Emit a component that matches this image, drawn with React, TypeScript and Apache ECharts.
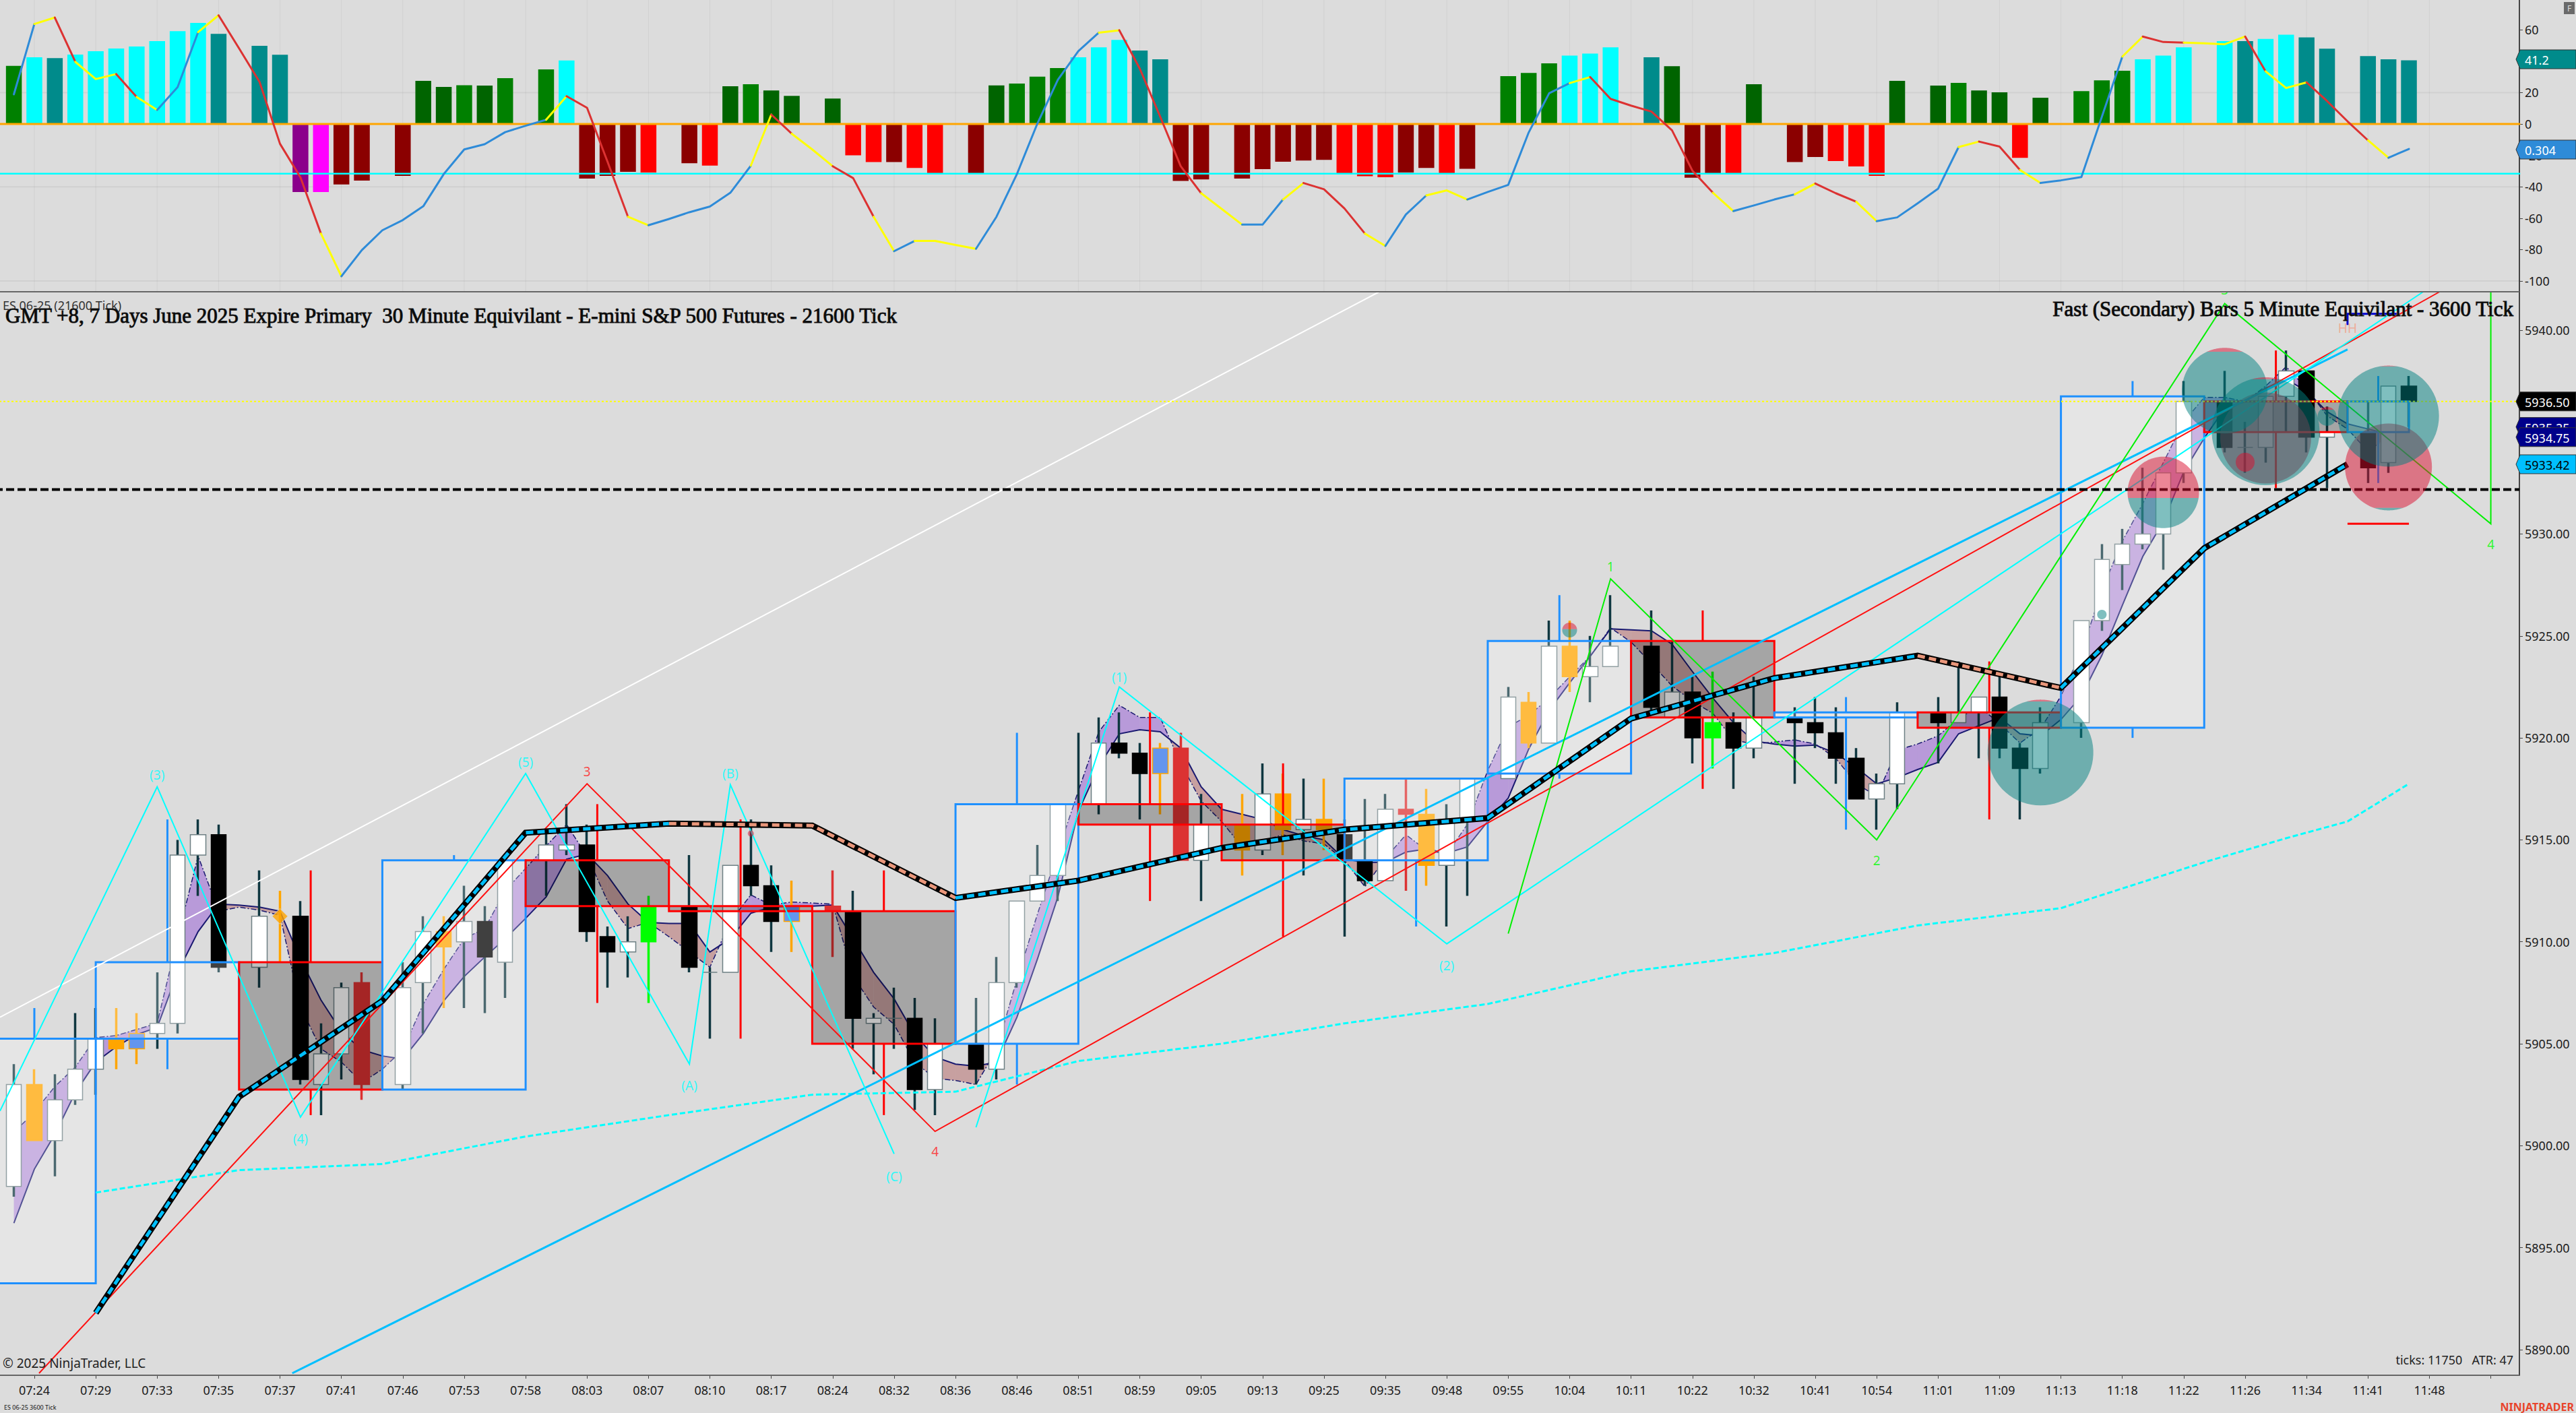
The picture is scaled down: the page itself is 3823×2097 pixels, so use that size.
import React, { useEffect, useRef } from "react";
import * as echarts from "echarts";

const tickLabels = ["07:24","07:29","07:33","07:35","07:37","07:41","07:46","07:53","07:58","08:03","08:07","08:10","08:17","08:24","08:32","08:36","08:46","08:51","08:59","09:05","09:13","09:25","09:35","09:48","09:55","10:04","10:11","10:22","10:32","10:41","10:54","11:01","11:09","11:13","11:18","11:22","11:26","11:34","11:41","11:48"];
const priceTicks = [5890,5895,5900,5905,5910,5915,5920,5925,5930,5935,5940];
const oscTicks = [60,40,20,0,-20,-40,-60,-80,-100];

// histogram, one value per fast bar
const histValues: (number|null)[] = [37.05,42.5,41.9,44.2,46.4,48.1,49.4,52.8,59.1,64.4,57.4,null,49.8,44.1,-43.3,-43.3,-38.5,-36,null,-33,27.5,23.6,24.7,24.5,29.2,null,34.8,40.5,-34.8,-33,-30.5,-30.9,null,-25,-26.5,24,25.3,21.3,17.9,null,16.2,-20,-24.3,-24.3,-28,-31.5,null,-31.5,24.6,25.8,30.2,35.6,42.5,48.8,53.5,46.8,41.2,-36.3,-35.3,null,-34.8,-28.8,-24,-23.3,-22.9,-31.5,-33.3,-33.9,-30.9,-28,-31.5,-28.5,null,30.5,32.5,38.6,43.6,44.9,48.8,null,42.5,36.8,-34.2,-31.5,-31.5,25.3,null,-24.3,-21,-23.6,-27,-33,27.5,null,24.5,26.2,21.3,20.2,-21.6,16.7,null,20.9,27.8,33.9,41.2,43.6,48.8,null,52.8,52.8,54.2,56.9,55.2,48,null,43.2,41.2,40.6];
const histKinds = "gctccccccct.ttpmxx.xddgdg.gcxxxr.xrdgdd.drrxrr.xdgggcccttxx.xxxxxrrrxxrx.gggccc.tdxxrd.xxrrrd.dgddrd.gggccc.ctcctt.ttt".split("");

const oscValues = [18.9,63.7,67.8,39.6,28.6,31.8,17.2,8.9,23.5,58.5,69.2,48.2,26.8,-12.6,-34,-69.8,-97,-80.3,-67.7,-61.2,-52.4,-31.9,-16.2,-12.9,-5.2,-1.1,2.7,17.7,10.3,-24,-59.1,-64.5,-60.5,-56.2,-52.6,-43.8,-26.6,6,-6.2,-16.2,-26.9,-34.5,-59.1,-81,-74.5,-74.5,-77,-79.5,-59.1,-31.9,0.3,28.2,46.4,58.2,59.7,35.3,4.6,-26.9,-44.1,-54.1,-64.1,-64.1,-48.1,-37.6,-41.6,-53.8,-69.8,-77.7,-57.7,-45.5,-42.3,-48.1,-43.3,-38.8,-5.4,19.6,26,29.9,16,11.7,7.9,-4,-29.8,-43.8,-55.5,-51.9,-48.1,-44.8,-37.9,-44.1,-49.5,-61.9,-59.5,-50.5,-41.2,-14.7,-11.2,-14.4,-29.3,-37.6,-35.9,-33.8,4.6,42.9,55.7,52.2,51.8,51.4,50.8,55.7,33.5,22.9,26.5,14.6,1.7,-10.4,-21.5,-15.9];
const oscSegments = "BYRYYRYBBYRRRRRYBBBBBBBBBBYRRRYBBBBBYRYYRRYBYYYBBBBBBYRRRRYYBBYRRRYBBYYBBBBBYRRRRRRYBBBYRRYBBBBYRRYBBBBYRRYYYRYYRRRYB";

type Row = [number, number, number, number, string] | null;
// high, body top, body bottom, low, kind
const candleRows: Row[] = [
[5904,5903,5898,5897.5,"W"],[5903.75,5903,5900.25,5900.25,"O"],[5903.5,5902.25,5900.25,5898.5,"W"],[5906.5,5903.75,5902.25,5902,"W"],[5906.75,5905.25,5903.75,5902.5,"W"],[5906.75,5905.25,5904.75,5903.75,"O"],[5906.5,5905.5,5904.75,5904,"L"],[5908.5,5906,5905.5,5904.75,"W"],[5915,5914.25,5906,5905.5,"W"],[5916,5915.25,5914.25,5912.25,"W"],[5915.75,5915.25,5908.75,5908.5,"B"],null,
[5913.5,5911.25,5908.75,5907.75,"W"],[5912.5,5911.25,5911.25,5909,"Y"],[5912,5911.25,5903.25,5903,"B"],[5906,5904.5,5903,5901.5,"W"],[5908,5907.75,5904.5,5903.25,"W"],[5908.5,5908,5903,5902.25,"R"],null,
[5909,5907.75,5903,5902.75,"W"],[5911.25,5910.5,5908,5905.5,"W"],[5911.25,5910.5,5909.75,5906.75,"O"],[5912.75,5911,5910,5906.75,"W"],[5911.75,5911,5909.25,5906.5,"B"],[5914,5914,5909,5907.25,"W"],null,
[5915.5,5914.75,5914,5912.25,"W"],[5916.75,5914.75,5914.5,5914.25,"W"],[5915.75,5914.75,5910.5,5910,"B"],[5910.75,5910.25,5909.5,5907.75,"B"],[5911.25,5910,5909.5,5908.25,"W"],[5912.25,5911.75,5910,5907,"G"],null,
[5914.25,5911.75,5908.75,5908.5,"B"],[5908.75,5908.5,5908.5,5905.25,"W"],[5913.75,5913.75,5908.5,5908.5,"W"],[5916,5913.75,5912.75,5912.25,"B"],[5913.75,5912.75,5911,5909.5,"B"],[5913,5911.75,5911,5909.5,"L"],null,
[5913.5,5911.75,5911.5,5909.25,"R"],[5912.5,5911.5,5906.25,5904.75,"B"],[5906.5,5906.25,5906,5903.5,"W"],[5907.75,5906.25,5906.25,5904.75,"W"],[5907.25,5906.25,5902.75,5901.75,"B"],[5906.25,5905,5902.75,5901.5,"W"],null,
[5907.25,5905,5903.75,5903,"B"],[5909.25,5908,5903.75,5903.25,"W"],[5912,5912,5908,5907.75,"W"],[5914.75,5913.25,5912,5912,"W"],[5916.75,5916.75,5913.25,5912,"W"],[5920.25,5916.75,5916.75,5915.75,"W"],[5921,5919.75,5916.75,5916.25,"W"],[5921.25,5919.75,5919.25,5919,"B"],[5919.75,5919.25,5918.25,5916,"B"],[5919.75,5919.5,5918.25,5916.25,"L"],[5920.25,5919.5,5914,5914,"R"],[5917.25,5915.75,5914,5912,"W"],null,
[5917.25,5915.75,5914.5,5913.25,"O"],[5918.75,5917.25,5914.5,5914.25,"W"],[5918.25,5917.25,5915.5,5914.25,"O"],[5918,5916,5915.5,5913.25,"W"],[5918,5916,5915.5,5914.5,"O"],[5916,5915.25,5914,5910.25,"B"],[5917,5914,5913,5912.75,"B"],[5917.25,5916.5,5913,5913,"W"],[5918,5916.5,5916.25,5912.5,"R"],[5917.5,5916.25,5913.75,5912.75,"O"],[5916.75,5916,5913.75,5910.75,"W"],[5918,5918,5916,5912.25,"W"],null,
[5922.5,5922,5918,5918,"W"],[5922.25,5921.75,5919.75,5919.5,"O"],[5925.75,5924.5,5919.75,5919.75,"W"],[5925.75,5924.5,5923,5922.25,"O"],[5925,5923.5,5923,5921.75,"W"],[5927,5924.5,5923.5,5923.5,"W"],null,
[5926.25,5924.5,5921.5,5921.25,"B"],[5924.75,5922.25,5921,5921,"W"],[5923,5922.25,5920,5918.75,"B"],[5923.25,5920.75,5920,5918.5,"G"],[5921.25,5920.75,5919.5,5917.5,"B"],[5923,5921,5919.5,5919,"W"],null,
[5921.5,5921,5920.75,5917.75,"B"],[5922,5920.75,5920.25,5919.5,"B"],[5921.5,5920.25,5919,5917.75,"B"],[5919.5,5919,5917,5917,"B"],[5918.25,5917.75,5917,5915.5,"W"],[5921.75,5921.25,5917.75,5916.5,"W"],null,
[5922,5921.25,5920.75,5918.75,"B"],[5923.75,5921.25,5920.75,5920.75,"W"],[5922,5922,5921.25,5919,"W"],[5923,5922,5919.5,5919,"B"],[5919.75,5919.5,5918.5,5916,"B"],[5921.5,5920.75,5918.5,5918.25,"W"],null,
[5925.75,5925.75,5920.75,5920,"W"],[5929.5,5928.75,5925.75,5925.25,"W"],[5930.25,5929.5,5928.5,5927.25,"W"],[5933.25,5930,5929.5,5929.25,"W"],[5933,5933,5930,5928.25,"W"],[5937.5,5936.5,5933,5932.5,"W"],null,
[5938,5936.5,5934.25,5934,"B"],[5935.5,5934.25,5934.25,5933,"W"],[5936.75,5936.75,5934.25,5933.5,"W"],[5939,5938,5936.75,5935,"W"],[5938,5938,5934.75,5934,"B"],[5936.25,5935,5934.75,5932.25,"W"],null,
[5936.5,5935,5933.25,5932.5,"B"],[5937.25,5937.25,5933.5,5933,"W"],[5937.75,5937.25,5936.5,5935.25,"B"],
];

// left bar, right bar, top, bottom, high, low, direction
const slowBars: [number,number,number,number,number,number,string][] = [
[-2,4,5905.25,5893.25,5906.75,5893.25,"up"],[4,11,5909,5905.25,5916,5903.75,"up"],[11,18,5909,5902.75,5913.5,5901.5,"down"],[18,25,5914,5902.75,5914.25,5902.75,"up"],[25,32,5914,5911.75,5916.75,5907,"down"],[32,39,5911.75,5911.5,5916,5905.25,"down"],[39,46,5911.5,5905,5913.5,5901.5,"down"],[46,52,5916.75,5905,5920.25,5903,"up"],[52,59,5916.75,5915.75,5921.25,5912,"down"],[59,65,5915.75,5914,5918.75,5910.25,"down"],[65,72,5918,5914,5918,5910.75,"up"],[72,79,5924.75,5918.25,5927,5918,"up"],[79,86,5924.75,5921,5926.25,5917.5,"down"],[86,93,5921.25,5921,5922,5915.5,"up"],[93,100,5921.25,5920.5,5923.75,5916,"down"],[100,107,5936.75,5920.5,5937.5,5920,"up"],[107,114,5936.5,5935,5939,5932.25,"down"],[114,117,5936.5,5935,5937.75,5932.5,"up"],
];

const ribbonSolid = [5896.2,5898.85,5900.55,5902.6,5904.1,5904.85,5905.45,5905.8,5908.5,5910.5,5911.85,5911.8,5911.7,5911.5,5909.15,5907.15,5905.6,5904.7,5904.4,5904.25,5905.5,5907.1,5908.3,5909.25,5910.15,5911.15,5912.2,5914.05,5914.3,5913.25,5911.85,5910.95,5910.9,5910.9,5909.5,5910.15,5911.4,5911.7,5911.75,5911.75,5911.8,5910.15,5908.5,5907.2,5905.45,5904.35,5904,5903.9,5904.1,5906.3,5909.15,5912.2,5916.4,5918.6,5920.2,5920.4,5920.3,5919.5,5917.6,5916.5,5916.25,5916,5915.5,5915.2,5915,5914.05,5913.9,5913.9,5914.4,5914.55,5914.35,5914.65,5915.9,5917.05,5919.45,5921.35,5922.7,5924,5925.35,5925.3,5925.25,5924.6,5923.25,5921.95,5920.75,5919.85,5919.7,5919.6,5919.65,5919.25,5918.55,5917.75,5918.05,5918.45,5918.8,5920.2,5920.6,5921,5920.2,5920.1,5920.9,5922.05,5924.05,5926.5,5928.9,5930.6,5933.05,5934.7,5936.15,5936.5,5937.15,5937.6,5937,5936,5935.4,5935.15,5934.9];
const ribbonDashed = [5900.65,5901.65,5902.9,5903.85,5905.3,5905.4,5905.7,5906,5910.2,5914.2,5911.5,5911.7,5911.55,5911.3,5906.8,5904.75,5904.1,5903.1,5903.75,5904.7,5906.95,5908.65,5910.15,5910.65,5912.5,5913.6,5914.7,5915.75,5914.2,5912,5910.65,5910.95,5910.25,5909.5,5908.75,5911,5912.3,5911.8,5911.95,5911.9,5911.85,5908.3,5906.8,5905.95,5904.1,5903.3,5903.2,5903,5904.7,5908.15,5911.35,5914.4,5917.4,5920.3,5921.6,5921,5921,5918.75,5916.9,5915.9,5914.65,5914.95,5915.25,5914.95,5914.8,5914,5912.7,5914.1,5915.25,5914.5,5914.3,5915.75,5918.4,5920.55,5921.1,5921.95,5923,5924,5925.4,5924.7,5923.65,5922.55,5921.8,5921.2,5919.9,5919.7,5919.8,5919.9,5919.7,5919,5917.75,5917.15,5919.4,5919.7,5920.1,5920.95,5921.55,5920.7,5919.75,5920.45,5922.05,5924.2,5927.25,5929.65,5931.5,5933.5,5935.5,5936.7,5936.7,5936.5,5937.25,5938.2,5937.15,5935.8,5935.15,5934.05,5934.8];

const thickBars = [4,11,18,25,32,39,46,52,59,65,72,79,86,93,100,107,114];
const thickPrices = [5891.8,5902.4,5907.1,5915.35,5915.8,5915.7,5912.15,5913,5914.6,5915.5,5916.07,5920.95,5922.93,5924.03,5922.45,5929.3,5933.42];
const thickSegments = "BBBBSSBBBBBBBSBB";

const longMaBars = [4,11,18,25,32,39,46,52,59,65,72,79,86,93,100,107,111,114,117];
const longMaPrices = [5897.7,5898.8,5899.1,5900.45,5901.5,5902.5,5902.65,5904.15,5905,5906,5906.95,5908.55,5909.45,5910.8,5911.65,5913.9,5915.08,5915.9,5917.75];

const whiteLine = [[-0.68,5906.3],[66.7,5941.88]];
const redWave = [[1.23,5888.84],[28,5917.75],[45,5900.7],[118.5,5941.88]];
const blueTrend = [[13.6,5888.84],[114,5939.05]];
const cyanWaveA = [[-0.68,5901.7],[7,5917.6],[14,5901.4],[25,5918.25],[33,5904],[35,5917.7],[43,5899.6]];
const cyanWaveB = [[47,5900.9],[54,5922.5],[70,5909.9],[117.7,5941.88]];
const greenWave = [[73,5910.4],[78,5927.8],[91,5915],[108,5941.3],[121,5930.5],[121,5941.88]];

const waveLabels: [string,number,number,string][] = [
["(3)",7,5918.17,"#00FFFF"],["(4)",14,5900.34,"#00FFFF"],["(5)",25,5918.8,"#00FFFF"],["3",28,5918.35,"#FF2020"],["(A)",33,5902.95,"#00FFFF"],["(B)",35,5918.25,"#00FFFF"],["(C)",43,5898.5,"#00FFFF"],["4",45,5899.7,"#FF2020"],["(1)",54,5922.98,"#00FFFF"],["(2)",70,5908.84,"#00FFFF"],["1",78,5928.4,"#00FF00"],["2",91,5914,"#00FF00"],["3",108,5941.98,"#00FF00"],["4",121,5929.49,"#00FF00"],["HH",114,5940.1,"#F2A088"],
];

// bar, centre price, diameter, price where the pink upper part meets the teal lower part
const circleRows: [number,number,number,number][] = [
[110,5934.71,135,5932.07],[116,5933.29,129,5931.28],[99,5919.28,157,5921.79],[102,5926.05,14,5926.3],[76,5925.29,22,5925.33],[36,5915.31,9,5915.1],[108,5937.03,127,5938.94],[110,5935.04,160,5937.59],[113,5935.77,28,5936.1],[116,5935.78,150,5938.22],[105,5932.04,106,5931.77],[109,5933.52,28,5933],
];

const priceFlags: [number,string,string,string][] = [[5936.5,"5936.50","#000000","#FFFFFF"],[5935.25,"5935.25","#00008B","#FFFFFF"],[5934.75,"5934.75","#00008B","#FFFFFF"],[5933.42,"5933.42","#00BFFF","#000000"]];
const oscFlags: [number,string,string,string][] = [[41.2,"41.2","#008B8B","#FFFFFF"],[-16.3,"0.304","#2E8BD8","#FFFFFF"]];

const BAND = 30.38;
const BANDS = 124;
const FONT = "'Noto Sans', sans-serif";
const AXIS_END = 122.4;
const OFFSET = -3.14;
const OSC_MIN = -106.87, OSC_MAX = 78.97, PRICE_MIN = 5888.74, PRICE_MAX = 5941.88;
const categories = Array.from({ length: BANDS }, (_, j) => (j >= 2 && (j - 2) % 3 === 0 ? tickLabels[(j - 2) / 3] ?? "" : ""));
const isTick = (j: number) => j >= 2 && (j - 2) % 3 === 0;

const histColor: Record<string,string> = { g:"#008000", d:"#006400", c:"#00FFFF", t:"#008B8B", p:"#8B008B", m:"#FF00FF", r:"#FF0000", x:"#8B0000" };
const oscColor: Record<string,string> = { B:"#2E8BD8", Y:"#FFFF00", R:"#DC3232" };
const WICK = "#0F3740";
const candleStyle: Record<string,{fill:string,border:string,wick:string}> = {
  W:{fill:"#FFFFFF",border:"#6E8084",wick:WICK}, B:{fill:"#000000",border:"#000000",wick:WICK}, O:{fill:"#FFA500",border:"#FFA500",wick:"#FFA500"},
  Y:{fill:"transparent",border:"transparent",wick:"#FFA500"}, L:{fill:"#6495ED",border:"#FFA500",wick:"#FFA500"}, R:{fill:"#DC3232",border:"#DC3232",wick:"#DC3232"}, G:{fill:"#00FF00",border:"#00FF00",wick:"#00FF00"},
};
const isUp = (kind: string) => kind === "W" || kind === "G";

const mainLine = (name: string, data: any[], color: string, width: number, z: number, type: any = "solid") => ({
  name, type: "line", xAxisIndex: 3, yAxisIndex: 1, data, symbol: "none", silent: true, z,
  lineStyle: { color, width, type, cap: "butt", join: "miter" },
});
const oscLine = (name: string, data: any[], color: string, width: number, z: number) => ({
  name, type: "line", xAxisIndex: 1, yAxisIndex: 0, data, symbol: "none", silent: true, z,
  lineStyle: { color, width, cap: "round", join: "round" },
});

const runs = (segments: string) => {
  const out: { code: string; from: number; to: number }[] = [];
  segments.split("").forEach((code, i) => {
    const last = out[out.length - 1];
    if (last && last.code === code) last.to = i + 1;
    else out.push({ code, from: i, to: i + 1 });
  });
  return out;
};

const flagSeries = (name: string, rows: [number,string,string,string][], xAxisIndex: number, yAxisIndex: number) => ({
  name, type: "custom", xAxisIndex, yAxisIndex, clip: false, silent: true, z: 30,
  data: rows.map((r) => [AXIS_END, r[0]]), encode: { x: 0, y: 1 },
  renderItem: (params: any, api: any) => {
    const r = rows[params.dataIndex];
    const y = api.coord([AXIS_END, r[0]])[1];
    return { type: "group", children: [
      { type: "polygon", shape: { points: [[3734,y],[3740,y-14],[3823,y-14],[3823,y+14],[3740,y+14]] }, style: { fill: r[2], stroke: "#333333", lineWidth: 1 } },
      { type: "text", style: { x: 3747, y: y + 1, text: r[1], fill: r[3], fontSize: 18, fontFamily: FONT, align: "left", verticalAlign: "middle" } },
    ] };
  },
});

const buildOption = (): any => {
  const series: any[] = [];

  // oscillator panel
  series.push({
    name: "grid columns", type: "custom", xAxisIndex: 1, yAxisIndex: 0, silent: true, z: 10,
    data: tickLabels.map((_, i) => [1 + i * 3, 0]), encode: { x: 0, y: 1 },
    renderItem: (params: any, api: any) => {
      const x = api.coord([api.value(0), 0])[0];
      return { type: "line", shape: { x1: x, y1: params.coordSys.y, x2: x, y2: params.coordSys.y + params.coordSys.height }, style: { stroke: "rgba(0,0,0,0.05)", lineWidth: 1 } };
    },
  });
  [20, -40, -100].forEach((v) => series.push(oscLine("grid " + v, [[-1.5, v], [AXIS_END, v]], "rgba(0,0,0,0.05)", 2, 10)));
  series.push({
    name: "histogram", type: "bar", xAxisIndex: 0, yAxisIndex: 0, barWidth: 23.5, z: 11, silent: true,
    data: ["-"].concat(histValues as any).map((v: any, j: number) => v === "-" || v === null ? "-" : { value: v, itemStyle: { color: histColor[histKinds[j - 1]] } }),
  });
  series.push(oscLine("zero", [[-1.5, 0], [AXIS_END, 0]], "#FFA500", 3, 12));
  series.push(oscLine("oversold", [[-1.5, -31.7], [AXIS_END, -31.7]], "#00FFFF", 2.5, 12));
  runs(oscSegments).forEach((run, i) => {
    const data = [];
    for (let k = run.from; k <= run.to; k++) data.push([k, oscValues[k]]);
    series.push(oscLine("oscillator " + i, data, oscColor[run.code], 3, 13));
  });
  series.push(flagSeries("oscillator flags", oscFlags, 1, 0));

  // price panel: ribbon
  series.push({
    name: "ribbon", type: "custom", xAxisIndex: 3, yAxisIndex: 1, silent: true, z: 1,
    data: ribbonSolid.slice(0, -1).map((s, k) => [k, s]), encode: { x: 0, y: 1 },
    renderItem: (params: any, api: any) => {
      const k = params.dataIndex;
      const s0 = api.coord([k, ribbonSolid[k]]), s1 = api.coord([k + 1, ribbonSolid[k + 1]]);
      const d0 = api.coord([k, ribbonDashed[k]]), d1 = api.coord([k + 1, ribbonDashed[k + 1]]);
      const purple = "rgba(148,87,214,0.5)", red = "rgba(178,100,100,0.5)";
      const g0 = ribbonDashed[k] - ribbonSolid[k], g1 = ribbonDashed[k + 1] - ribbonSolid[k + 1];
      if (g0 * g1 < 0) {
        const t = g0 / (g0 - g1);
        const m = [s0[0] + (s1[0] - s0[0]) * t, s0[1] + (s1[1] - s0[1]) * t];
        return { type: "group", children: [
          { type: "polygon", shape: { points: [s0, m, d0] }, style: { fill: g0 > 0 ? purple : red } },
          { type: "polygon", shape: { points: [m, s1, d1] }, style: { fill: g1 > 0 ? purple : red } },
        ] };
      }
      return { type: "polygon", shape: { points: [s0, s1, d1, d0] }, style: { fill: g0 + g1 >= 0 ? purple : red } };
    },
  });
  series.push(mainLine("ribbon solid", ribbonSolid.map((p, k) => [k, p]), "#191970", 2, 2));
  series.push(mainLine("ribbon dashed", ribbonDashed.map((p, k) => [k, p]), "#191970", 1.5, 2, [8, 3, 2, 3]));

  // candles
  const pad = (list: any[]) => [[NaN, NaN, NaN, NaN]].concat(list);
  const ohlc = (r: Row) => (r ? (isUp(r[4]) ? [r[2], r[1], r[3], r[0]] : [r[1], r[2], r[3], r[0]]) : [NaN, NaN, NaN, NaN]);
  series.push({
    name: "wicks", type: "candlestick", xAxisIndex: 2, yAxisIndex: 1, barWidth: 1, z: 3, silent: true,
    data: pad(candleRows.map((r) => {
      if (!r) return [NaN, NaN, NaN, NaN];
      const c = candleStyle[r[4]].wick;
      return { value: ohlc(r), itemStyle: { color: c, color0: c, borderColor: c, borderColor0: c, borderColorDoji: c, borderWidth: 3.5 } };
    })),
  });
  series.push({
    name: "bodies", type: "candlestick", xAxisIndex: 2, yAxisIndex: 1, barWidth: 23, z: 4, silent: true,
    data: pad(candleRows.map((r) => {
      if (!r) return [NaN, NaN, NaN, NaN];
      const s = candleStyle[r[4]];
      const v = ohlc(r);
      return { value: [v[0], v[1], Math.min(v[0], v[1]), Math.max(v[0], v[1])], itemStyle: { color: s.fill, color0: s.fill, borderColor: s.border, borderColor0: s.border, borderColorDoji: s.border, borderWidth: 1.5 } };
    })),
  });
  series.push({
    name: "orange diamond", type: "scatter", xAxisIndex: 3, yAxisIndex: 1, symbol: "diamond", symbolSize: 23, z: 5, silent: true,
    data: [[13, 5911.25]], itemStyle: { color: "#FFA500", borderColor: "#D8D8D8", borderWidth: 1 },
  });

  // primary bars drawn over the fast candles
  series.push({
    name: "primary bars", type: "custom", xAxisIndex: 3, yAxisIndex: 1, silent: true, z: 6,
    data: slowBars.map((b) => [b[0], b[2]]), encode: { x: 0, y: 1 },
    renderItem: (params: any, api: any) => {
      const b = slowBars[params.dataIndex];
      const up = b[6] === "up";
      const stroke = up ? "#1E90FF" : "#FF0000";
      const tl = api.coord([b[0], b[2]]), br = api.coord([b[1], b[3]]);
      const mid = api.coord([(b[0] + b[1]) / 2, b[4]])[0];
      const hi = api.coord([b[0], b[4]])[1], lo = api.coord([b[0], b[5]])[1];
      return { type: "group", children: [
        { type: "line", shape: { x1: mid, y1: hi, x2: mid, y2: tl[1] }, style: { stroke, lineWidth: 3 } },
        { type: "line", shape: { x1: mid, y1: br[1], x2: mid, y2: lo }, style: { stroke, lineWidth: 3 } },
        { type: "rect", shape: { x: tl[0], y: tl[1], width: br[0] - tl[0], height: br[1] - tl[1] }, style: { fill: up ? "rgba(255,255,255,0.25)" : "rgba(0,0,0,0.25)", stroke, lineWidth: 3 } },
      ] };
    },
  });

  // drawn lines
  series.push(mainLine("white trend", whiteLine, "#FFFFFF", 2, 7));
  series.push(mainLine("long average", longMaBars.map((k, i) => [k, longMaPrices[i]]), "#00FFFF", 3, 7, [8, 4]));
  series.push(mainLine("red wave", redWave, "#FF1010", 2, 7));
  series.push(mainLine("blue trend", blueTrend, "#00BFFF", 3, 7));
  series.push(mainLine("cyan wave a", cyanWaveA, "#00FFFF", 2, 7));
  series.push(mainLine("cyan wave b", cyanWaveB, "#00FFFF", 2, 7));
  series.push(mainLine("green wave", greenWave, "#00F000", 2, 7));
  series.push(mainLine("low mark", [[114, 5930.5], [117, 5930.5]], "#FF0000", 3, 7));
  series.push(mainLine("high mark", [[114, 5940.25], [114, 5940.8], [116.4, 5940.8]], "#0000CD", 3, 7));
  series.push(mainLine("last price", [[-1.5, 5936.5], [AXIS_END, 5936.5]], "#FFFF00", 2, 7, [3, 3]));
  series.push(mainLine("pivot", [[-1.5, 5932.18], [AXIS_END, 5932.18]], "#000000", 4, 8, [12, 5]));

  // thick average: black casing with coloured dashes
  series.push(mainLine("thick casing", thickBars.map((k, i) => [k, thickPrices[i]]), "#000000", 9, 8));
  runs(thickSegments).forEach((run, i) => {
    const data = [];
    for (let n = run.from; n <= run.to; n++) data.push([thickBars[n], thickPrices[n]]);
    series.push(mainLine("thick " + i, data, run.code === "B" ? "#00BFFF" : "#E9967A", 5, 9, [11, 6]));
  });

  series.push({
    name: "circles", type: "custom", xAxisIndex: 3, yAxisIndex: 1, silent: true, z: 9,
    data: circleRows.map((c) => [c[0], c[1]]), encode: { x: 0, y: 1 },
    renderItem: (params: any, api: any) => {
      const c = circleRows[params.dataIndex];
      const [cx, cy] = api.coord([c[0], c[1]]);
      const r = c[2] / 2;
      const split = api.coord([c[0], c[3]])[1];
      const T = Math.acos(Math.max(-1, Math.min(1, (cy - split) / r)));
      const arc = (a: number, b: number) => {
        const n = 64;
        const pts = [];
        for (let i = 0; i <= n; i++) {
          const t = a + ((b - a) * i) / n;
          pts.push([cx + r * Math.sin(t), cy - r * Math.cos(t)]);
        }
        return pts;
      };
      return { type: "group", children: [
        { type: "polygon", shape: { points: arc(-T, T) }, style: { fill: "rgba(218,14,46,0.5)" } },
        { type: "polygon", shape: { points: arc(T, 2 * Math.PI - T) }, style: { fill: "rgba(0,128,128,0.5)" } },
      ] };
    },
  });

  series.push({
    name: "wave labels", type: "scatter", xAxisIndex: 3, yAxisIndex: 1, symbolSize: 1, clip: false, silent: true, z: 7,
    itemStyle: { color: "rgba(0,0,0,0)" },
    data: waveLabels.map((w) => ({ value: [w[1], w[2]], name: w[0], label: { show: true, position: "inside", formatter: "{b}", color: w[3], fontSize: 19, fontFamily: FONT, textBorderWidth: 0 } })),
  });
  series.push(flagSeries("price flags", priceFlags, 3, 1));

  const axisTextColor = "#1A1A1A";
  const xCat = (gridIndex: number, show: boolean) => ({
    type: "category", gridIndex, data: categories, boundaryGap: true,
    axisLine: { show: false },
    axisTick: { show, alignWithLabel: true, interval: (j: number) => isTick(j), length: 5, lineStyle: { color: "#444444", width: 1 } },
    axisLabel: { show, interval: (j: number) => isTick(j), margin: 13, fontSize: 18, fontFamily: FONT, color: axisTextColor, hideOverlap: false },
    splitLine: { show: false },
  });
  const xVal = (gridIndex: number) => ({ type: "value", gridIndex, min: -1.5, max: 122.5, show: false, position: "top", splitLine: { show: false } });
  const yAxis = (gridIndex: number, min: number, max: number, ticks: number[], fmt: (v: number) => string) => ({
    type: "value", gridIndex, position: "right", offset: OFFSET, min, max, scale: true,
    axisLine: { show: true, onZero: false, lineStyle: { color: "#444444", width: 2 } },
    axisTick: { show: true, length: 5, customValues: ticks, lineStyle: { color: "#444444", width: 1 } },
    axisLabel: { show: true, customValues: ticks, margin: 8, fontSize: 18, fontFamily: FONT, color: axisTextColor, padding: [4, 0, 0, 0], formatter: fmt },
    splitLine: { show: false },
  });

  const label = (text: string, x: number, y: number, extra: any = {}) => ({
    type: "text", z: 40, silent: true,
    style: { text, x, y, fill: "#222222", fontSize: 18, fontFamily: FONT, align: "left", verticalAlign: "middle", ...extra },
  });
  const serif = { fontFamily: "'Liberation Serif', serif", fontSize: 31, fill: "#0A0A0A", stroke: "#333333", lineWidth: 1.1 };

  return {
    animation: false,
    backgroundColor: "#DCDCDC",
    grid: [
      { left: -24.98, top: 0, width: BAND * BANDS, height: 433, containLabel: false, outerBoundsMode: "none" },
      { left: -24.98, top: 433, width: BAND * BANDS, height: 1608, containLabel: false, outerBoundsMode: "none" },
    ],
    xAxis: [xCat(0, false), xVal(0), xCat(1, true), xVal(1)],
    yAxis: [
      yAxis(0, OSC_MIN, OSC_MAX, oscTicks, (v) => String(v)),
      yAxis(1, PRICE_MIN, PRICE_MAX, priceTicks, (v) => v.toFixed(2)),
    ],
    series,
    graphic: [
      { type: "rect", z: 9.5, silent: true, shape: { x: 0, y: 0, width: 3737, height: 432 }, style: { fill: "#DCDCDC" } },
      { type: "line", z: 40, silent: true, shape: { x1: 0, y1: 433, x2: 3739, y2: 433 }, style: { stroke: "#666666", lineWidth: 2 } },
      { type: "line", z: 40, silent: true, shape: { x1: 0, y1: 2041, x2: 3739, y2: 2041 }, style: { stroke: "#666666", lineWidth: 2 } },
      label("ES 06-25 (21600 Tick)", 4, 453, { fontSize: 18, fill: "#333333" }),
      label("GMT +8, 7 Days June 2025 Expire Primary  30 Minute Equivilant - E-mini S&P 500 Futures - 21600 Tick", 8, 468, serif),
      label("Fast (Secondary) Bars 5 Minute Equivilant - 3600 Tick", 3730, 458, { ...serif, align: "right" }),
      label("© 2025 NinjaTrader, LLC", 4, 2023, { fontSize: 19 }),
      label("ticks: 11750   ATR: 47", 3730, 2018, { fontSize: 18, align: "right" }),
      label("ES 06-25 3600 Tick", 6, 2088, { fontSize: 9, fill: "#111111" }),
      label("NINJATRADER", 3820, 2088, { fontSize: 16, fontWeight: "bold", fill: "#E8452C", align: "right" }),
      { type: "rect", z: 40, silent: true, shape: { x: 3805, y: 3, width: 16, height: 18 }, style: { fill: "#6A6A6A" } },
      label("F", 3813, 12, { fontSize: 12, fill: "#DDDDDD", align: "center" }),
    ],
  };
};

export default function App() {
  const ref = useRef<HTMLDivElement>(null);
  useEffect(() => {
    const chart = echarts.init(ref.current!, undefined, { renderer: "svg" });
    chart.setOption(buildOption());
    return () => chart.dispose();
  }, []);
  return <div ref={ref} style={{ position: "fixed", left: 0, top: 0, width: 3823, height: 2097 }} />;
}
